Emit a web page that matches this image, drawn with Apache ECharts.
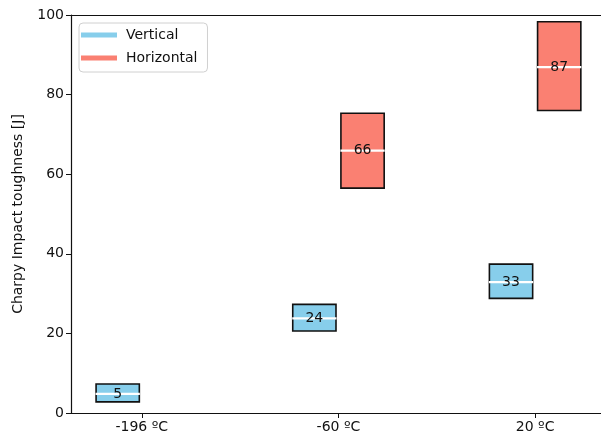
<!DOCTYPE html>
<html>
<head>
<meta charset="utf-8">
<script src="https://cdn.jsdelivr.net/npm/echarts@6/dist/echarts.min.js"></script>
<style>html,body{margin:0;padding:0;background:#fff;overflow:hidden;}#c{width:601px;height:441px;}</style>
</head>
<body>
<div id="c"></div>
<script>
const categories = ['-196 ºC', '-60 ºC', '20 ºC'];
const verticalLow = [2.8, 20.6, 28.8];
const verticalHigh = [7.3, 27.3, 37.4];
const verticalMedian = [4.8, 23.8, 32.9];
const horizontalLow = [null, 56.5, 76.0];
const horizontalHigh = [null, 75.3, 98.3];
const horizontalMedian = [null, 65.9, 86.9];
const yTicks = [0, 20, 40, 60, 80, 100];

const FONT = 'DejaVu Sans';
const OFFSET = 0.1225;
const BOXW = 0.22;

function buildData(low, high, med, sign) {
  const out = [];
  for (let i = 0; i < categories.length; i++) {
    if (low[i] == null) continue;
    out.push([i + 1 + sign * OFFSET, low[i], high[i], med[i]]);
  }
  return out;
}

function makeRender(fill) {
  return function (params, api) {
    const x = api.value(0);
    const lo = api.coord([x, api.value(1)]);
    const hi = api.coord([x, api.value(2)]);
    const md = api.coord([x, api.value(3)]);
    const w = api.size([BOXW, 0])[0];
    const left = lo[0] - w / 2;
    return {
      type: 'group',
      children: [
        { type: 'rect', shape: { x: left, y: hi[1], width: w, height: lo[1] - hi[1] },
          style: { fill: fill, stroke: '#111', lineWidth: 1.6 } },
        { type: 'line', shape: { x1: left - 0.5, y1: md[1], x2: left + w + 0.5, y2: md[1] },
          style: { stroke: '#fff', lineWidth: 2.2 } },
        { type: 'text', x: md[0], y: md[1],
          style: { text: String(Math.round(api.value(3))), fill: '#111', font: '14px ' + FONT,
                   align: 'center', verticalAlign: 'middle' } }
      ]
    };
  };
}

const chart = echarts.init(document.getElementById('c'));
chart.setOption({
  animation: false,
  backgroundColor: '#fff',
  textStyle: { fontFamily: FONT },
  grid: { left: 71, right: 0, top: 15, bottom: 28, show: false },
  legend: {
    left: 79, top: 23, orient: 'vertical',
    padding: [5, 10, 7, 2], itemGap: 9,
    itemWidth: 36, itemHeight: 5, icon: 'rect',
    borderColor: '#d0d0d0', borderWidth: 1, borderRadius: 4,
    backgroundColor: 'rgba(255,255,255,0.85)',
    textStyle: { fontFamily: FONT, fontSize: 14, color: '#111', padding: [0, 0, 0, 4] },
    data: ['Vertical', 'Horizontal']
  },
  xAxis: [{
    type: 'value', min: 0.64, max: 3.335,
    splitLine: { show: false },
    axisLine: { show: true, lineStyle: { color: '#111', width: 1.2 } },
    axisTick: { show: true, length: 5, lineStyle: { color: '#111' }, customValues: [1, 2, 3] },
    axisLabel: { customValues: [1, 2, 3], fontFamily: FONT, fontSize: 14, color: '#111', margin: 7,
                 formatter: v => categories[Math.round(v) - 1] || '' }
  }, {
    type: 'value', position: 'top', min: 0.64, max: 3.335,
    splitLine: { show: false },
    axisLine: { show: true, lineStyle: { color: '#111', width: 1.2 } },
    axisTick: { show: false }, axisLabel: { show: false }
  }],
  yAxis: {
    type: 'value', min: 0, max: 100, interval: 20,
    name: 'Charpy Impact toughness [J]', nameLocation: 'middle', nameGap: 46,
    nameTextStyle: { fontFamily: FONT, fontSize: 14, color: '#111' },
    splitLine: { show: false },
    axisLine: { show: true, lineStyle: { color: '#111', width: 1.2 } },
    axisTick: { show: true, length: 5, lineStyle: { color: '#111' } },
    axisLabel: { fontFamily: FONT, fontSize: 14, color: '#111', margin: 7,
                 formatter: v => yTicks.includes(v) ? String(v) : '' }
  },
  series: [
    { name: 'Vertical', type: 'custom', itemStyle: { color: '#87CEEB' },
      renderItem: makeRender('#87CEEB'), encode: { x: 0, y: [1, 2] },
      data: buildData(verticalLow, verticalHigh, verticalMedian, -1) },
    { name: 'Horizontal', type: 'custom', itemStyle: { color: '#FA8072' },
      renderItem: makeRender('#FA8072'), encode: { x: 0, y: [1, 2] },
      data: buildData(horizontalLow, horizontalHigh, horizontalMedian, 1) }
  ]
});
</script>
</body>
</html>
